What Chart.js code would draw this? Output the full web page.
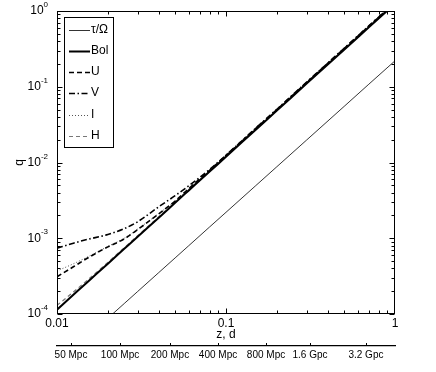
<!DOCTYPE html>
<html><head><meta charset="utf-8">
<script src="https://cdn.jsdelivr.net/npm/chart.js@4/dist/chart.umd.min.js"></script>
<style>html,body{margin:0;padding:0;background:#fff}</style>
</head><body>
<canvas id="c" width="436" height="372"></canvas>
<script>
// ---- data ----
const zValues  = [0.01, 0.0125, 0.015, 0.02, 0.025, 0.03, 0.04, 0.05, 0.06, 0.08, 0.1, 0.15, 0.2, 0.3, 0.5, 0.7, 1.0];
const qTauOmega= [2.2e-5, 3.44e-5, 4.95e-5, 8.8e-5, 1.375e-4, 1.98e-4, 3.52e-4, 5.5e-4, 7.92e-4, 1.41e-3, 2.2e-3, 4.95e-3, 8.8e-3, 1.98e-2, 5.5e-2, 0.108, 0.22];
const qBol     = [1.14e-4, 1.79e-4, 2.59e-4, 4.62e-4, 7.26e-4, 1.05e-3, 1.87e-3, 2.94e-3, 4.25e-3, 7.6e-3, 1.19e-2, 2.71e-2, 4.84e-2, 0.110, 0.308, 0.608, 1.25];
const qU       = [3.1e-4, 4.2e-4, 5.4e-4, 7.7e-4, 9.8e-4, 1.3e-3, 2.1e-3, 3.1e-3, 4.5e-3, 7.9e-3, 1.24e-2, 2.82e-2, 5.0e-2, 0.114, 0.32, 0.63, 1.3];
const qV       = [7.4e-4, 8.6e-4, 9.6e-4, 1.12e-3, 1.34e-3, 1.65e-3, 2.6e-3, 3.65e-3, 4.9e-3, 8.1e-3, 1.25e-2, 2.84e-2, 5.05e-2, 0.115, 0.322, 0.635, 1.3];
const qI       = [3.7e-4, 4.6e-4, 5.6e-4, 7.8e-4, 1.0e-3, 1.32e-3, 2.12e-3, 3.1e-3, 4.45e-3, 7.8e-3, 1.22e-2, 2.78e-2, 4.95e-2, 0.112, 0.315, 0.62, 1.28];
const qH       = [1.3e-4, 1.95e-4, 2.75e-4, 4.8e-4, 7.5e-4, 1.08e-3, 1.92e-3, 3.0e-3, 4.35e-3, 7.75e-3, 1.22e-2, 2.77e-2, 4.95e-2, 0.112, 0.315, 0.62, 1.28];
const seriesNames = ['τ/Ω', 'Bol', 'U', 'V', 'I', 'H'];
const xTicks = [0.01, 0.1, 1];
const yTicks = [1e-4, 1e-3, 1e-2, 1e-1, 1];
const yTickExp = ['-4', '-3', '-2', '-1', '0'];
const distZ = [0.0121, 0.0236, 0.0466, 0.0897, 0.1725, 0.314, 0.673];
const distLabels = ['50 Mpc', '100 Mpc', '200 Mpc', '400 Mpc', '800 Mpc', '1.6 Gpc', '3.2 Gpc'];

const FONT = '"Liberation Sans", Arial, Helvetica, sans-serif';
const pts = arr => zValues.map((z, i) => ({x: z, y: arr[i]}));

const styles = [
  {color: '#000', width: 0.8, dash: []},
  {color: '#000', width: 2.0, dash: []},
  {color: '#000', width: 1.6, dash: [5, 3]},
  {color: '#000', width: 1.6, dash: [6, 2.5, 1.5, 2.5]},
  {color: '#555', width: 1.0, dash: [1, 2]},
  {color: '#777', width: 1.2, dash: [4, 3]}
];
const seriesData = [qTauOmega, qBol, qU, qV, qI, qH];

const framePlugin = {
  id: 'frame',
  afterDraw(chart) {
    const {ctx, chartArea: a, scales: {x, y, x2}} = chart;
    ctx.save();
    ctx.strokeStyle = '#000';
    ctx.lineWidth = 1;
    ctx.setLineDash([]);
    const L = Math.round(a.left) + 0.5, R = Math.round(a.right) - 0.5;
    const T = Math.round(a.top) + 0.5, B = Math.round(a.bottom) - 0.5;
    ctx.strokeRect(L, T, R - L, B - T);
    ctx.beginPath();
    [0.01, 0.1].forEach(d => {
      for (let k = 1; k <= 9; k++) {
        const px = Math.round(x.getPixelForValue(d * k)) + 0.5;
        const len = k === 1 ? 5 : 3;
        ctx.moveTo(px, B); ctx.lineTo(px, B - len);
        ctx.moveTo(px, T); ctx.lineTo(px, T + len);
      }
    });
    [1e-4, 1e-3, 1e-2, 1e-1].forEach(d => {
      for (let k = 1; k <= 9; k++) {
        const py = Math.round(y.getPixelForValue(d * k)) + 0.5;
        const len = k === 1 ? 5 : 3;
        ctx.moveTo(L, py); ctx.lineTo(L + len, py);
        ctx.moveTo(R, py); ctx.lineTo(R - len, py);
      }
    });
    distZ.forEach(v => {
      const px = Math.round(x2.getPixelForValue(v)) + 0.5;
      ctx.moveTo(px, x2.top); ctx.lineTo(px, x2.top - 3);
    });
    ctx.stroke();

    ctx.fillStyle = '#000';
    yTicks.forEach((v, i) => {
      const py = y.getPixelForValue(v);
      ctx.font = '8px ' + FONT;
      const ew = ctx.measureText(yTickExp[i]).width;
      const xr = a.left - 10;
      ctx.textAlign = 'left';
      ctx.textBaseline = 'middle';
      ctx.fillText(yTickExp[i], xr - ew + 1, py - 6);
      ctx.font = '12px ' + FONT;
      ctx.textAlign = 'right';
      ctx.fillText('10', xr - ew + 1, py);
    });
    ctx.save();
    ctx.translate(20, y.getPixelForValue(1e-2));
    ctx.rotate(-Math.PI / 2);
    ctx.font = '12px ' + FONT;
    ctx.textAlign = 'center';
    ctx.textBaseline = 'middle';
    ctx.fillText('q', 0, 0);
    ctx.restore();

    ctx.fillStyle = '#fff';
    ctx.fillRect(64, 17, 49, 130);
    ctx.strokeStyle = '#000';
    ctx.lineWidth = 1;
    ctx.setLineDash([]);
    ctx.strokeRect(64.5, 17.5, 49, 130);
    const rows = [30, 51, 72, 93, 115, 136];
    seriesNames.forEach((n, i) => {
      const s = styles[i];
      ctx.beginPath();
      ctx.strokeStyle = s.color;
      ctx.lineWidth = s.width;
      ctx.setLineDash(s.dash);
      ctx.moveTo(69, rows[i] + 0.5);
      ctx.lineTo(90, rows[i] + 0.5);
      ctx.stroke();
      ctx.setLineDash([]);
      ctx.fillStyle = '#000';
      ctx.font = '12px ' + FONT;
      ctx.textAlign = 'left';
      ctx.textBaseline = 'middle';
      ctx.fillText(n, 91, rows[i]);
    });
    ctx.restore();
  }
};

new Chart(document.getElementById('c'), {
  type: 'line',
  data: {
    datasets: seriesNames.map((n, i) => ({
      label: n,
      data: pts(seriesData[i]),
      borderColor: styles[i].color,
      borderWidth: styles[i].width,
      borderDash: styles[i].dash,
      pointRadius: 0,
      cubicInterpolationMode: 'monotone',
      fill: false
    }))
  },
  options: {
    responsive: false,
    animation: false,
    events: [],
    layout: {padding: {left: 0, right: 41, top: 11, bottom: 0}},
    plugins: {legend: {display: false}, tooltip: {enabled: false}},
    scales: {
      x: {
        type: 'logarithmic', min: 0.01, max: 1, position: 'bottom',
        grid: {display: false, drawTicks: false},
        border: {display: false},
        afterBuildTicks: s => { s.ticks = xTicks.map(v => ({value: v})); },
        afterFit: s => { s.height = 32; },
        ticks: {
          autoSkip: false, maxRotation: 0, padding: 2, color: '#000',
          font: {family: FONT, size: 12},
          callback: v => String(v)
        },
        title: {display: true, text: 'z, d', color: '#000', font: {family: FONT, size: 12}, padding: {top: 0, bottom: 4}}
      },
      x2: {
        type: 'logarithmic', min: 0.01, max: 1, position: 'bottom', weight: 1,
        grid: {display: false, drawTicks: false},
        border: {display: true, color: '#000', width: 1.3},
        afterBuildTicks: s => { s.ticks = distZ.map(v => ({value: v})); },
        afterFit: s => { s.height = 26; },
        ticks: {
          autoSkip: false, maxRotation: 0, padding: 3, color: '#000',
          font: {family: FONT, size: 10},
          callback: (v, i) => distLabels[i]
        }
      },
      y: {
        type: 'logarithmic', min: 1e-4, max: 1,
        grid: {display: false, drawTicks: false},
        border: {display: false},
        ticks: {display: false},
        afterFit: s => { s.width = 57; }
      }
    }
  },
  plugins: [framePlugin]
});
</script>
</body></html>
